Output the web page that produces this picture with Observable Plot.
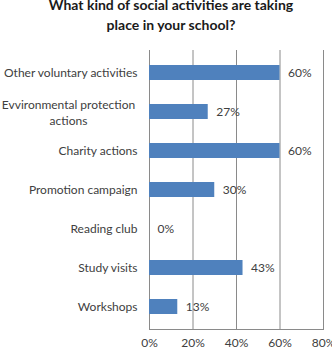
<!DOCTYPE html>
<html><head><meta charset="utf-8">
<script src="https://cdn.jsdelivr.net/npm/d3@7"></script>
<script src="https://cdn.jsdelivr.net/npm/@observablehq/plot@0.6"></script>
<style>
body{margin:0;background:#fff;width:332px;height:350px;overflow:hidden;font-family:Lato,sans-serif}
#title{position:relative;top:-5px;font-weight:bold;font-size:14px;line-height:20px;height:35px;text-align:center;padding-left:10px;color:#1a1a1a;white-space:nowrap}
#chart svg{display:block}
</style></head><body>
<div id="title">What kind of social activities are taking<br>place in your school?</div>
<div id="chart"></div>
<script>
const categories = ["Other voluntary activities","Evvironmental protection actions","Charity actions","Promotion campaign","Reading club","Study visits","Workshops"];
const values = [60, 27, 60, 30, 0, 43, 13];
const xTicks = [0, 20, 40, 60, 80];
const wrapped = "Evvironmental protection actions";
const wrappedText = "Evvironmental protection\nactions";
const data = categories.map((c, i) => ({category: c, value: values[i]}));
const plot = Plot.plot({
  width: 332, height: 315,
  marginLeft: 149, marginRight: 9, marginTop: 15, marginBottom: 21,
  style: {fontFamily: "Lato, sans-serif", fontSize: "12px", color: "#404040", background: "#fff", overflow: "visible"},
  x: {domain: [0, 80], ticks: xTicks, tickFormat: d => d + "%", label: null},
  y: {domain: categories, paddingInner: 0.625, paddingOuter: 0.3125, label: null},
  marks: [
    Plot.ruleX(xTicks, {stroke: "#8a8a8a", strokeWidth: 1}),
    Plot.frame({anchor: "bottom", stroke: "#8a8a8a"}),
    Plot.barX(data, {x: "value", y: "category", fill: "#4F81BD"}),
    Plot.text(data, {x: "value", y: "category", text: d => d.value + "%", textAnchor: "start", dx: 8, fill: "#404040"}),
    Plot.axisX({ticks: xTicks, tickSize: 0, tickPadding: 9, tickFormat: d => d + "%", fill: "#404040", label: null}),
    Plot.axisY({tickSize: 0, tickPadding: 12, tickFormat: d => d === wrapped ? "" : d, fill: "#404040", label: null}),
    Plot.text([wrapped], {y: d => d, frameAnchor: "left", dx: -81, textAnchor: "middle", lineHeight: 1.35, text: () => wrappedText, fill: "#404040"})
  ]
});
document.getElementById("chart").appendChild(plot);
</script>
</body></html>
